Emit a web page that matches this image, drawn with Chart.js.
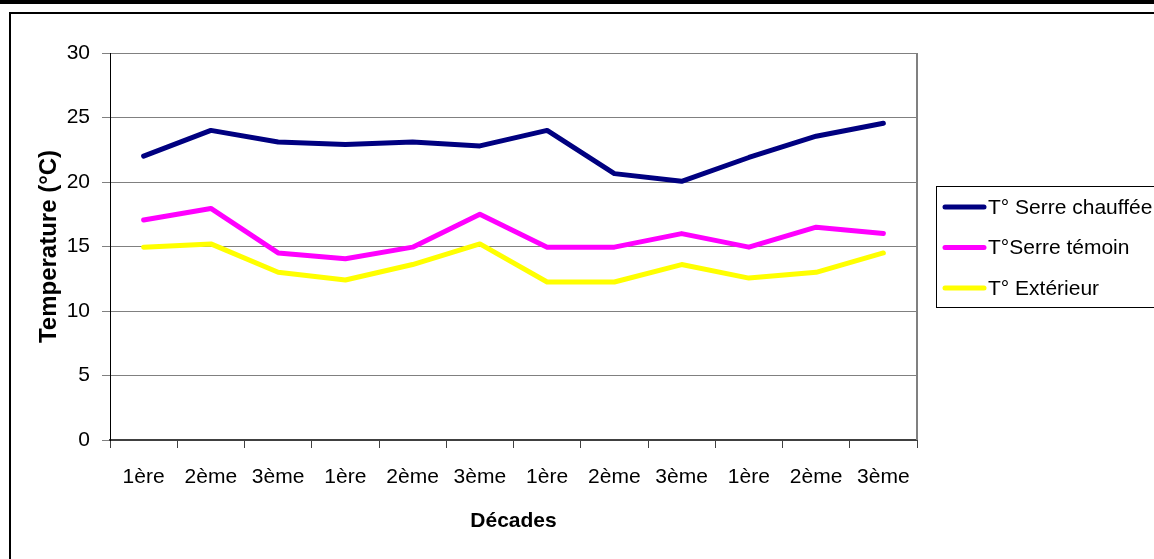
<!DOCTYPE html>
<html>
<head>
<meta charset="utf-8">
<script src="https://cdn.jsdelivr.net/npm/chart.js@4/dist/chart.umd.min.js"></script>
<style>
  html, body { margin: 0; padding: 0; background: #ffffff; }
  #c { display: block; }
</style>
</head>
<body>
<canvas id="c" width="1154" height="559"></canvas>
<script>
const categories = ['1ère', '2ème', '3ème', '1ère', '2ème', '3ème', '1ère', '2ème', '3ème', '1ère', '2ème', '3ème'];
const serreChauffee = [22.0, 24.0, 23.1, 22.9, 23.1, 22.8, 24.0, 20.65, 20.05, 21.9, 23.55, 24.55];
const serreTemoin = [17.05, 17.95, 14.5, 14.05, 14.95, 17.5, 14.95, 14.95, 16.0, 14.95, 16.5, 16.0];
const exterieur = [14.95, 15.2, 13.0, 12.4, 13.6, 15.2, 12.25, 12.25, 13.6, 12.55, 13.0, 14.5];
const seriesNames = ['T° Serre chauffée', 'T°Serre témoin', 'T° Extérieur'];
const yTicks = [0, 5, 10, 15, 20, 25, 30];
const xTitle = 'Décades';
const yTitle = 'Temperature (°C)';

const FONT = '"Liberation Sans", Arial, Helvetica, sans-serif';

const framePlugin = {
  id: 'frame',
  beforeDraw(chart) {
    const ctx = chart.ctx;
    ctx.save();
    ctx.fillStyle = '#ffffff';
    ctx.fillRect(0, 0, chart.width, chart.height);
    ctx.fillStyle = '#000000';
    ctx.fillRect(0, 0, chart.width, 4);
    ctx.strokeStyle = '#000000';
    ctx.lineWidth = 2;
    ctx.strokeRect(10, 13, chart.width + 50, chart.height + 50);
    ctx.restore();
  },
  afterDatasetsDraw(chart) {
    const ctx = chart.ctx;
    const a = chart.chartArea;
    ctx.save();
    ctx.strokeStyle = '#808080';
    ctx.lineWidth = 2;
    ctx.beginPath();
    ctx.moveTo(a.right, a.top);
    ctx.lineTo(a.right, a.bottom);
    ctx.stroke();
    ctx.restore();
  },
  afterDraw(chart) {
    const ctx = chart.ctx;
    ctx.save();
    const bx = 936.5, by = 186.5, bh = 121;
    ctx.strokeStyle = '#000000';
    ctx.lineWidth = 1;
    ctx.strokeRect(bx, by, chart.width, bh);
    const rows = [207, 247.5, 288];
    ctx.font = '21px ' + FONT;
    ctx.textBaseline = 'middle';
    ctx.textAlign = 'left';
    chart.data.datasets.forEach((ds, i) => {
      const y = rows[i];
      ctx.strokeStyle = ds.borderColor;
      ctx.lineWidth = 5;
      ctx.lineCap = 'round';
      ctx.beginPath();
      ctx.moveTo(945, y);
      ctx.lineTo(984, y);
      ctx.stroke();
      ctx.fillStyle = '#000000';
      ctx.fillText(ds.label, 988, y + 1);
    });
    ctx.restore();
  }
};

new Chart(document.getElementById('c'), {
  type: 'line',
  data: {
    labels: categories,
    datasets: [
      { label: seriesNames[0], data: serreChauffee, borderColor: '#000080', backgroundColor: '#000080' },
      { label: seriesNames[1], data: serreTemoin, borderColor: '#FF00FF', backgroundColor: '#FF00FF' },
      { label: seriesNames[2], data: exterieur, borderColor: '#FFFF00', backgroundColor: '#FFFF00' }
    ]
  },
  options: {
    responsive: false,
    animation: false,
    devicePixelRatio: 1,
    layout: { padding: { left: 0, top: 53, right: 237, bottom: 0 } },
    elements: {
      line: { borderWidth: 5, tension: 0, borderCapStyle: 'round', borderJoinStyle: 'round', fill: false },
      point: { radius: 0, hoverRadius: 0 }
    },
    plugins: {
      legend: { display: false },
      tooltip: { enabled: false },
      title: { display: false }
    },
    scales: {
      x: {
        type: 'category',
        offset: true,
        afterFit(scale) { scale.height = 119; },
        grid: {
          offset: true,
          drawOnChartArea: false,
          drawTicks: true,
          tickLength: 8,
          color: '#404040',
          lineWidth: 1
        },
        border: { display: true, color: '#404040', width: 2 },
        ticks: {
          color: '#000000',
          font: { family: FONT, size: 21 },
          padding: 17,
          maxRotation: 0,
          autoSkip: false
        },
        title: {
          display: true,
          text: xTitle,
          color: '#000000',
          font: { family: FONT, size: 21, weight: 'bold' },
          padding: { top: 0, bottom: 25 }
        }
      },
      y: {
        min: 0,
        max: 30,
        afterFit(scale) { scale.width = 110; },
        afterBuildTicks(scale) { scale.ticks = yTicks.map(v => ({ value: v })); },
        grid: {
          drawOnChartArea: true,
          drawTicks: true,
          tickLength: 8,
          color: '#808080',
          lineWidth: 1
        },
        border: { display: true, color: '#000000', width: 1 },
        ticks: {
          color: '#000000',
          font: { family: FONT, size: 21 },
          padding: 12
        },
        title: {
          display: true,
          text: yTitle,
          color: '#000000',
          font: { family: FONT, size: 24, weight: 'bold' },
          padding: { top: 35, bottom: 0 }
        }
      }
    }
  },
  plugins: [framePlugin]
});
</script>
</body>
</html>
